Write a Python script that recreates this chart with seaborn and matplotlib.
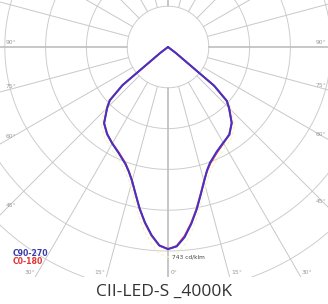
import numpy as np
import pandas as pd
import matplotlib
matplotlib.use("Agg")
import matplotlib.pyplot as plt
import seaborn as sns

# photometric data, cd/klm, gamma from nadir
gamma = [0, 2.5, 5, 7.5, 10, 12.5, 15, 17.5, 20, 25, 30, 35, 40, 45, 47.5, 50, 52.5, 55, 60, 70, 80, 90]
c90 = [743, 734, 702, 656, 607, 556, 512, 476, 452, 424, 406, 394, 364, 318, 294, 222, 38, 0, 0, 0, 0, 0]
c270 = [743, 730, 694, 650, 602, 552, 510, 480, 458, 430, 410, 390, 366, 316, 290, 218, 36, 0, 0, 0, 0, 0]
c0 = [743, 732, 698, 653, 604, 554, 511, 478, 455, 427, 408, 392, 365, 317, 292, 220, 37, 0, 0, 0, 0, 0]
c180 = [743, 731, 696, 652, 603, 553, 510, 479, 456, 428, 409, 391, 365, 317, 291, 219, 37, 0, 0, 0, 0, 0]

ring_step = 150
angle_step = 15
side_labels = [90, 75, 60, 45]
title = "CII-LED-S _4000K"
peak_label = "743 cd/klm"

W, H = 328, 304
cx, cy = 168, 47      # centre of the diagram in pixels
bottom_px = 277
s = 0.272             # px per cd


def half_curve(right, left):
    g = np.array(gamma, dtype=float)
    a = np.concatenate([-g[::-1], g[1:]])
    r = np.concatenate([np.array(left)[::-1], np.array(right)[1:]])
    rad = np.deg2rad(a)
    return r * np.sin(rad), -r * np.cos(rad)


rows = []
for name, (rt, lt) in {"C0-180": (c0, c180), "C90-270": (c90, c270)}.items():
    x, y = half_curve(rt, lt)
    rows.append(pd.DataFrame({"x": x, "y": y, "plane": name}))
df = pd.concat(rows, ignore_index=True)

sns.set_style("white")
fig = plt.figure(figsize=(W / 100, H / 100), dpi=100)
ax = fig.add_axes([0, 1 - bottom_px / H, 1, bottom_px / H])
xmin, xmax = -cx / s, (W - cx) / s
ymin, ymax = -(bottom_px - cy) / s, cy / s
ax.set_xlim(xmin, xmax)
ax.set_ylim(ymin, ymax)
ax.axis("off")

# rings
t = np.linspace(0, 2 * np.pi, 400)
for r in np.arange(ring_step, 1300, ring_step):
    ax.plot(r * np.cos(t), r * np.sin(t), color="#cdcdcd", lw=0.7, zorder=1)

# radial lines
for a in range(0, 360, angle_step):
    rad = np.deg2rad(a)
    main = a % 90 == 0
    ax.plot([ring_step * np.sin(rad), 1300 * np.sin(rad)],
            [-ring_step * np.cos(rad), -1300 * np.cos(rad)],
            color="#bdbdbd" if main else "#c8c8c8", lw=1.2 if main else 0.7, zorder=1)

# angle labels where the radial lines leave the frame
lab_kw = dict(fontsize=4.3, color="#999999", zorder=3)
dx_in = 6 / s
for a in range(-90, 91, angle_step):
    rad = np.deg2rad(a)
    sx, cyy = np.sin(rad), np.cos(rad)
    txt = f"{abs(a)}°"
    if abs(a) in side_labels:
        if a < 0:
            xe = xmin + dx_in
            ye = -(xe / sx) * cyy
            ax.text(xe, ye + 1.5 / s, txt, ha="left", va="bottom", **lab_kw)
        else:
            xe = xmax - 2 / s
            ye = -(xe / sx) * cyy
            ax.text(xe, ye + 1.5 / s, txt, ha="right", va="bottom", **lab_kw)
    else:
        yb = ymin + 4 / s
        xe = -yb * np.tan(rad)
        if a < 0:
            ax.text(xe - 2 / s, yb, txt, ha="right", va="center", **lab_kw)
        else:
            ax.text(xe + 3 / s, yb, txt, ha="left", va="center", **lab_kw)

# faint guide curve
gx, gy = half_curve(c0, c180)
ax.plot(gx * 1.04, gy * 1.04, color="#f8f2c8", lw=0.8, ls=(0, (3, 2)), zorder=2)

sns.lineplot(data=df, x="x", y="y", hue="plane", estimator=None, sort=False,
             palette={"C0-180": "#e03a3a", "C90-270": "#4232cc"},
             hue_order=["C0-180", "C90-270"], lw=1.4, legend=False, ax=ax, zorder=4)

ax.annotate(peak_label, xy=(0, -max(c90)), xytext=(3, -4), textcoords="offset points",
            ha="left", va="top", fontsize=4.2, color="#444444", zorder=5)

ax.text(xmin + 13 / s, ymin + 24 / s, "C90-270", color="#3a3aae", fontsize=5.6,
        fontweight="bold", ha="left", va="center", zorder=5)
ax.text(xmin + 13 / s, ymin + 16 / s, "C0-180", color="#e03535", fontsize=5.6,
        fontweight="bold", ha="left", va="center", zorder=5)

fig.text(0.5, 1 - 292 / H, title, ha="center", va="center", fontsize=12.5,
         color="#333333", family="Open Sans")

fig.savefig("out.png", dpi=100)
